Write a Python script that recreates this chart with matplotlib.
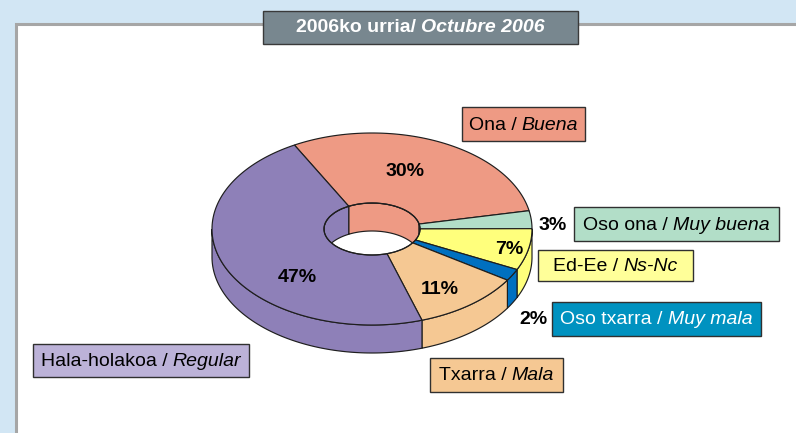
import numpy as np
import matplotlib
matplotlib.use("Agg")
import matplotlib.pyplot as plt
from matplotlib.patches import Polygon, Rectangle, Ellipse

plt.rcParams['font.family'] = ['Liberation Sans', 'DejaVu Sans']

# ---- data ----
title_eu = "2006ko urria/ "
title_es = "Octubre 2006"
labels_eu = ["Ona", "Oso ona", "Ed-Ee", "Oso txarra", "Txarra", "Hala-holakoa"]
labels_es = ["Buena", "Muy buena", "Ns-Nc", "Muy mala", "Mala", "Regular"]
values = [30, 3, 7, 2, 11, 47]

# ---- styles / layout ----
slice_colors = ["#EE9A84", "#B2DEC8", "#FFFF7C", "#0070C0", "#F5C893", "#8E80B8"]
box_colors = ["#EE9A84", "#B2DEC8", "#FFFF99", "#0092C0", "#F5C893", "#BCB2D8"]
box_text_colors = ["black", "black", "black", "white", "black", "black"]
# label boxes (x0, y0, x1, y1) in pixels
boxes = [(462, 107, 585, 141), (574, 207, 779, 241), (538, 250, 693, 281),
         (552, 302, 761, 336), (430, 358, 563, 392), (33, 344, 249, 377)]
pct_pos = [(405, 172), (553, 225), (509, 249), (533, 320), (440, 290), (297, 277)]

W, Hh = 796, 433
fig = plt.figure(figsize=(W / 100, Hh / 100), dpi=100)
fig.patch.set_facecolor("#D2E6F4")
ax = fig.add_axes([0, 0, 1, 1])
ax.set_xlim(0, W)
ax.set_ylim(Hh, 0)
ax.axis("off")

# white panel with gray border (top, left)
ax.add_patch(Rectangle((15.5, 23.5), 900, 500, facecolor="white",
                       edgecolor="#A6A6A6", lw=2.2, zorder=0))

# title box
ax.add_patch(Rectangle((263, 11), 315, 33, facecolor="#78878F",
                       edgecolor="#3A3A3A", lw=1.0, zorder=5))

fig.canvas.draw()
renderer = fig.canvas.get_renderer()


def two_part_text(xc, yc, t1, t2, color, size, weight="normal", z=6):
    """Draw 'regular' + 'italic' text centred at (xc, yc)."""
    a = ax.text(0, yc, t1, fontsize=size, fontweight=weight, color=color,
                va="center", ha="left", zorder=z)
    b = ax.text(0, yc, t2, fontsize=size, fontweight=weight, style="italic",
                color=color, va="center", ha="left", zorder=z)
    wa = a.get_window_extent(renderer).width
    wb = b.get_window_extent(renderer).width
    x0 = xc - (wa + wb) / 2
    a.set_x(x0)
    b.set_x(x0 + wa)


two_part_text(420.5, 28, title_eu, title_es, "white", 14, weight="bold")

# ---- doughnut geometry ----
cx, cy = 372, 229
RA, RB = 160, 96      # outer ellipse radii
ra, rb = 48, 26       # inner ellipse radii
depth = 28
start = 119.0
edge = "#1E1E1E"
lw = 0.85


def arc(t1, t2, A, B, dy=0.0, n=120):
    t = np.radians(np.linspace(t1, t2, n))
    return np.column_stack([cx + A * np.cos(t), cy - B * np.sin(t) + dy])


def intersect(lo, hi, wlo, whi):
    res = []
    for k in (-2, -1, 0, 1):
        a, b = max(lo, wlo + 360 * k), min(hi, whi + 360 * k)
        if b > a:
            res.append((a, b))
    return res


total = float(sum(values))
cum = np.concatenate([[0], np.cumsum(values)])
angles = [(start - cum[i] / total * 360, start - cum[i + 1] / total * 360)
          for i in range(len(values))]

hole_clip = Ellipse((cx, cy), 2 * ra, 2 * rb, transform=ax.transData)

for (t1, t2), col in zip(angles, slice_colors):
    lo, hi = t2, t1
    # outer front wall (sin < 0)
    for a, b in intersect(lo, hi, -180, 0):
        pts = np.vstack([arc(a, b, RA, RB), arc(b, a, RA, RB, dy=depth)])
        ax.add_patch(Polygon(pts, closed=True, facecolor=col, edgecolor=edge,
                             lw=lw, zorder=2))
    # inner back wall (sin > 0), seen through the hole
    for a, b in intersect(lo, hi, 0, 180):
        pts = np.vstack([arc(a, b, ra, rb), arc(b, a, ra, rb, dy=depth)])
        p = Polygon(pts, closed=True, facecolor=col, edgecolor=edge,
                    lw=lw, zorder=2)
        ax.add_patch(p)
        p.set_clip_path(hole_clip)
    # top face
    pts = np.vstack([arc(t1, t2, RA, RB), arc(t2, t1, ra, rb)])
    ax.add_patch(Polygon(pts, closed=True, facecolor=col, edgecolor=edge,
                         lw=lw, zorder=3))

# inner ellipse outline
ax.add_patch(Ellipse((cx, cy), 2 * ra, 2 * rb, facecolor="none",
                     edgecolor=edge, lw=lw, zorder=3))

# percentage labels
for v, (px, py) in zip(values, pct_pos):
    ax.text(px, py, f"{v}%", fontsize=14, fontweight="bold", color="black",
            ha="center", va="center", zorder=6)

# legend-like label boxes
for (x0, y0, x1, y1), fc, tc, le, ls in zip(boxes, box_colors, box_text_colors,
                                            labels_eu, labels_es):
    ax.add_patch(Rectangle((x0, y0), x1 - x0, y1 - y0, facecolor=fc,
                           edgecolor="#303030", lw=1.0, zorder=5))
    two_part_text((x0 + x1) / 2, (y0 + y1) / 2 + 1, le + " / ", ls, tc, 14)

fig.savefig("out.png", dpi=100, facecolor=fig.get_facecolor())
